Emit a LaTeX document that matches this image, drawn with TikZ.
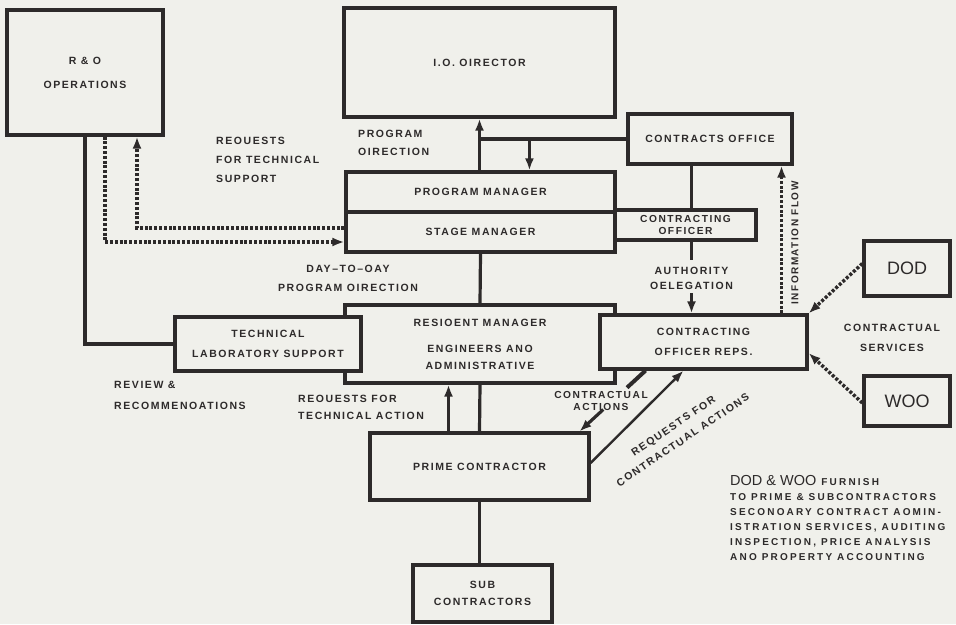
\documentclass[tikz,border=0pt]{standalone}
\usepackage{fontspec}
\usepackage{tikz}
\usepackage{xcolor}
\usetikzlibrary{arrows.meta, calc}
\setmainfont{Liberation Sans}
\newfontfamily\spacedfont[LetterSpace=15]{Liberation Sans}
\newfontfamily\widefont[LetterSpace=22]{Liberation Sans}
\definecolor{ink}{RGB}{45,42,42}
\definecolor{paper}{RGB}{240,240,235}
\newcommand{\lblfont}{\spacedfont\bfseries\fontsize{10.5}{19}\selectfont}
\newcommand{\tightfont}{\spacedfont\bfseries\fontsize{10.2}{12}\selectfont}
\newcommand{\bigfont}{\normalfont\fontsize{18}{20}\selectfont}
\tikzset{
    box/.style={
        rectangle,
        draw=ink,
        line width=3.2pt,
        fill=paper,
        align=center,
        text=ink,
        font=\lblfont,
        inner sep=0pt
    },
    lbl/.style={
        align=center,
        text=ink,
        font=\lblfont,
        inner sep=0pt
    },
    link/.style={draw=ink, line width=3.2pt},
    arrow/.style={draw=ink, line width=3.2pt, -{Latex[length=12pt,width=9pt]}},
    dotarrow/.style={draw=ink, line width=3.4pt, dash pattern=on 3pt off 1.8pt, -{Latex[length=12pt,width=9pt]}}
}

\begin{document}
\begin{tikzpicture}[x=1pt, y=-1pt]

        \useasboundingbox (0,0) rectangle (956,624);
        \fill [paper] (0,0) rectangle (956,624);

        \node (ro) [box, minimum width=156pt, minimum height=125pt] at (85,72.5) {R \& O\\[5pt]OPERATIONS};
        \node (dir) [box, minimum width=271pt, minimum height=109pt] at (479.5,62.5) {I.O. OIRECTOR};
        \node (pm) [box, minimum width=269pt, minimum height=40pt] at (480.5,192) {PROGRAM MANAGER};
        \node (sm) [box, minimum width=269pt, minimum height=40pt] at (480.5,232) {STAGE MANAGER};
        \node (co) [box, minimum width=141pt, minimum height=30pt, font=\tightfont] at (685.5,225) {CONTRACTING\\OFFICER};
        \node (cof) [box, minimum width=164pt, minimum height=50pt] at (710,139) {CONTRACTS OFFICE};
        \node (rm) [box, minimum width=270pt, minimum height=78pt] at (480,344) {RESIOENT MANAGER\\[7pt]ENGINEERS ANO\\[-2pt]ADMINISTRATIVE};
        \node (tls) [box, minimum width=186pt, minimum height=54pt] at (268,344) {TECHNICAL\\[1pt]LABORATORY SUPPORT};
        \node (cor) [box, minimum width=207pt, minimum height=54pt] at (703.5,342) {CONTRACTING\\[1pt]OFFICER REPS.};
        \node (pc) [box, minimum width=219pt, minimum height=67pt] at (479.5,466.5) {PRIME CONTRACTOR};
        \node (sub) [box, minimum width=139pt, minimum height=57pt] at (482.5,593.5) {SUB\\[-2pt]CONTRACTORS};
        \node (dod) [box, minimum width=86pt, minimum height=55pt, font=\bigfont] at (907,268.5) {DOD};
        \node (woo) [box, minimum width=86pt, minimum height=50pt, font=\bigfont] at (907,401) {WOO};

        \node (reqsup) [lbl, align=left, anchor=west] at (216,160) {REOUESTS\\FOR TECHNICAL\\SUPPORT};
        \node (progdir) [lbl, align=left, anchor=west] at (358,143) {PROGRAM\\[-1pt]OIRECTION};
        \node (daydir) [lbl] at (348,278) {DAY–TO–OAY\\PROGRAM OIRECTION};
        \node (review) [lbl, align=left, anchor=west] at (114,395.5) {REVIEW \&\\[2pt]RECOMMENOATIONS};
        \node (reqact) [lbl, align=left, anchor=west] at (298,407.5) {REOUESTS FOR\\[-2pt]TECHNICAL ACTION};
        \node (auth) [lbl] at ($(co.south)+(6,37)$) {AUTHORITY\\[-4pt]OELEGATION};
        \node (contserv) [lbl] at (892,338) {CONTRACTUAL\\[1pt]SERVICES};
        \node (info) [lbl, rotate=90, font=\spacedfont\bfseries\fontsize{10}{12}\selectfont] at (795,243) {INFORMATION FLOW};
        \node (cact) [lbl, font=\tightfont] at (601,401) {CONTRACTUAL\\ACTIONS};
        \node (reqca) [lbl, rotate=34, font=\spacedfont\bfseries\fontsize{10.5}{17}\selectfont] at (678,433) {REQUESTS FOR\\CONTRACTUAL ACTIONS};
        \node (note) [lbl, align=left, anchor=north west, font=\widefont\bfseries\fontsize{10}{15}\selectfont] at (730,475) {{\normalfont\fontsize{14.5}{15}\selectfont DOD \& WOO} FURNISH\\TO PRIME \& SUBCONTRACTORS\\SECONOARY CONTRACT AOMIN-\\ISTRATION SERVICES, AUDITING\\INSPECTION, PRICE ANALYSIS\\ANO PROPERTY ACCOUNTING};

        \coordinate (tap) at ($(cof.west -| dir.south)!0.34!(cof.west)$);
        \coordinate (ca1) at ([xshift=-58pt]cor.south);
        \coordinate (ca2) at ([xshift=100pt]pc.north);

        \draw [arrow] (dir.south |- pm.north) -- (dir.south);
        \draw [link] (cof.west) -- (cof.west -| dir.south);
        \draw [arrow] (tap) -- (tap |- pm.north);
        \draw [link] (auth |- cof.south) -- (auth |- co.north);
        \draw [link, shorten >=7pt] (auth |- co.south) -- (auth.north);
        \draw [arrow, shorten <=3pt] (auth.south) -- (auth.south |- cor.north);
        \draw [link] (sm.south) -- (rm.north);
        \draw [link] (rm.south) -- (pc.north);
        \draw [arrow] ([xshift=-31pt]pc.north) -- ([xshift=-31pt]pc.north |- rm.south);
        \draw [link] (pc.south) -- (pc.south |- sub.north);
        \draw [link] (ro.south) |- (tls.west);
        \draw [dotarrow] ([xshift=20pt]ro.south) |- ([yshift=-10pt]sm.west);
        \draw [dotarrow] ([yshift=4pt]sm.west) -| ([xshift=52pt]ro.south);
        \draw [link, line width=4pt] (ca1) -- ($(ca1)!0.28!(ca2)$);
        \draw [arrow] ($(ca1)!0.64!(ca2)$) -- (ca2);
        \draw [arrow, line width=2.4pt] ([yshift=3.5pt]pc.east) -- ([xshift=-20pt]cor.south);
        \draw [dotarrow] ([yshift=5pt]dod.west) -- (cor.north east);
        \draw [dotarrow] ([yshift=-2pt]woo.west) -- ([yshift=-11pt]cor.east);
        \draw [dotarrow] ([xshift=78pt]cor.north) -- ([xshift=78pt]cor.north |- cof.south);

    \end{tikzpicture}
\end{document}
